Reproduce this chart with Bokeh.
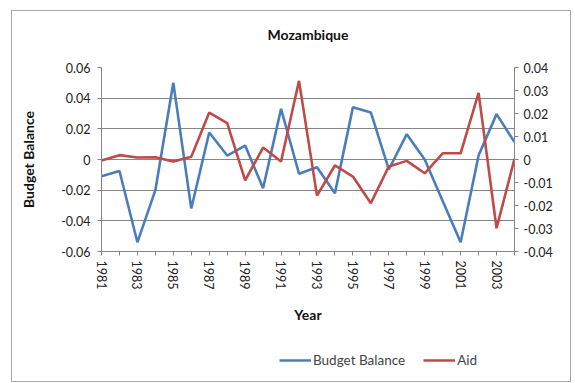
import math
from bokeh.plotting import figure
from bokeh.layouts import column
from bokeh.models import (Range1d, LinearAxis, FixedTicker, Legend, LegendItem)
from bokeh.embed import file_html
from bokeh.resources import INLINE

years = list(range(1981, 2005))
budget_balance = [-0.011, -0.0075, -0.054, -0.020, 0.050, -0.032, 0.0176, 0.0026,
                  0.0091, -0.0187, 0.033, -0.0093, -0.005, -0.022, 0.034, 0.0307,
                  -0.0065, 0.0165, 0.0, -0.027, -0.054, 0.0026, 0.0296, 0.0113]
aid = [-0.0004, 0.0019, 0.0009, 0.001, -0.0009, 0.0012, 0.0204, 0.0158,
       -0.0091, 0.0052, -0.0009, 0.0342, -0.0157, -0.0026, -0.0074, -0.019,
       -0.003, -0.0006, -0.006, 0.0027, 0.0027, 0.029, -0.0299, 0.0003]
left_ticks = [-0.06, -0.04, -0.02, 0.0, 0.02, 0.04, 0.06]
left_labels = ["-0.06", "-0.04", "-0.02", "0", "0.02", "0.04", "0.06"]
right_ticks = [-0.04, -0.03, -0.02, -0.01, 0.0, 0.01, 0.02, 0.03, 0.04]
right_labels = ["-0.04", "-0.03", "-0.02", "-0.01", "0", "0.01", "0.02", "0.03", "0.04"]
title_text = "Mozambique"

FONT = "Lato"
GREY = "#868686"
BLUE = "#4a7ebb"
RED = "#be4b48"

p = figure(width=558, height=320, output_backend="svg", toolbar_location=None,
           x_range=Range1d(1981, 2004), y_range=Range1d(-0.06, 0.06),
           min_border_left=89, min_border_right=56, min_border_top=56, min_border_bottom=80)
p.extra_y_ranges = {"aid": Range1d(-0.04, 0.04)}
p.outline_line_color = None
p.background_fill_color = "white"
p.border_fill_color = "white"

p.xgrid.visible = False
p.ygrid.ticker = FixedTicker(ticks=left_ticks)
p.ygrid.grid_line_color = GREY
p.ygrid.grid_line_width = 1

def style_axis(ax):
    ax.axis_line_color = GREY
    ax.major_tick_line_color = GREY
    ax.major_tick_out = 4
    ax.major_tick_in = 0
    ax.minor_tick_line_color = None
    ax.major_label_text_font = FONT
    ax.major_label_text_font_size = "12.5px"
    ax.major_label_text_color = "#222222"
    ax.axis_label_text_font = FONT
    ax.axis_label_text_font_size = "14px"
    ax.axis_label_text_font_style = "bold"
    ax.axis_label_text_color = "#111111"

xa = p.below[0]
xa.ticker = FixedTicker(ticks=years)
xa.major_label_overrides = {y: (str(y) if y % 2 == 1 else "") for y in years}
xa.major_label_orientation = -math.pi / 2
xa.axis_label = "Year"
style_axis(xa)
xa.axis_label_standoff = 14

# title drawn as the label of an empty top axis
ta = LinearAxis(ticker=FixedTicker(ticks=[]), axis_label=title_text)
style_axis(ta)
ta.axis_line_color = None
ta.major_tick_line_color = None
ta.major_label_text_font_size = "0px"
ta.axis_label_standoff = 25
p.add_layout(ta, "above")

ya = p.left[0]
ya.ticker = FixedTicker(ticks=left_ticks)
ya.major_label_overrides = dict(zip(left_ticks, left_labels))
ya.axis_label = "Budget Balance"
style_axis(ya)
ya.major_label_standoff = 7
ya.axis_label_standoff = 21

ra = LinearAxis(y_range_name="aid", ticker=FixedTicker(ticks=right_ticks))
ra.major_label_overrides = dict(zip(right_ticks, right_labels))
style_axis(ra)
ra.major_label_standoff = 5
p.add_layout(ra, "right")

p.line(years, budget_balance, line_color=BLUE, line_width=2.6)
p.line(years, aid, line_color=RED, line_width=2.6, y_range_name="aid")

# legend strip below the chart (series lines kept out of its view)
q = figure(width=558, height=50, output_backend="svg", toolbar_location=None,
           x_range=Range1d(1981, 2004), y_range=Range1d(1, 2),
           x_axis_location=None, y_axis_location=None,
           min_border_left=0, min_border_right=0, min_border_top=0, min_border_bottom=0)
q.xgrid.visible = False
q.ygrid.visible = False
q.outline_line_color = None
q.background_fill_color = "white"
q.border_fill_color = "white"
l1 = q.line(years, budget_balance, line_color=BLUE, line_width=2.6)
l2 = q.line(years, aid, line_color=RED, line_width=2.6)
legend = Legend(items=[LegendItem(label="Budget Balance", renderers=[l1]),
                       LegendItem(label="Aid", renderers=[l2])],
                orientation="horizontal", location=(178, 11),
                border_line_color=None, background_fill_alpha=0,
                label_text_font=FONT, label_text_font_size="13.5px",
                glyph_width=32, label_standoff=2, spacing=18, margin=0, padding=4)
q.add_layout(legend, "center")

layout = column(p, q, spacing=0, margin=(10, 0, 0, 11),
                styles={"border": "1px solid #a8a8a8"})

open("out.html", "w").write(file_html(layout, INLINE))
